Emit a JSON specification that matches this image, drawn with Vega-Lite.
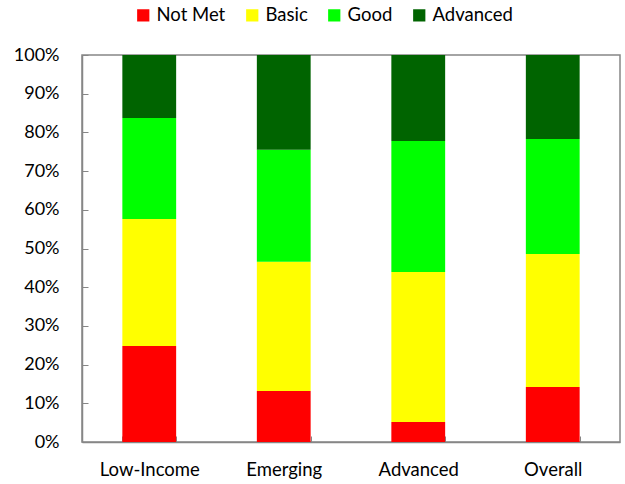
{
  "$schema": "https://vega.github.io/schema/vega-lite/v6.json",
  "autosize": "none",
  "padding": {"left": 82, "top": 55, "right": 5, "bottom": 42},
  "width": 538,
  "height": 387,
  "background": "white",
  "config": {
    "font": "Lato",
    "view": {"stroke": "#868686", "strokeWidth": 1.5},
    "axis": {"domainColor": "#868686", "tickColor": "#868686", "labelColor": "#000000", "grid": false}
  },
  "data": {
    "values": [
      {"group": "Low-Income", "level": "Not Met", "rank": 1, "pct": 24.8},
      {"group": "Low-Income", "level": "Basic", "rank": 2, "pct": 32.8},
      {"group": "Low-Income", "level": "Good", "rank": 3, "pct": 26.1},
      {"group": "Low-Income", "level": "Advanced", "rank": 4, "pct": 16.3},
      {"group": "Emerging", "level": "Not Met", "rank": 1, "pct": 13.2},
      {"group": "Emerging", "level": "Basic", "rank": 2, "pct": 33.4},
      {"group": "Emerging", "level": "Good", "rank": 3, "pct": 28.9},
      {"group": "Emerging", "level": "Advanced", "rank": 4, "pct": 24.5},
      {"group": "Advanced", "level": "Not Met", "rank": 1, "pct": 5.2},
      {"group": "Advanced", "level": "Basic", "rank": 2, "pct": 38.7},
      {"group": "Advanced", "level": "Good", "rank": 3, "pct": 33.9},
      {"group": "Advanced", "level": "Advanced", "rank": 4, "pct": 22.2},
      {"group": "Overall", "level": "Not Met", "rank": 1, "pct": 14.2},
      {"group": "Overall", "level": "Basic", "rank": 2, "pct": 34.4},
      {"group": "Overall", "level": "Good", "rank": 3, "pct": 29.7},
      {"group": "Overall", "level": "Advanced", "rank": 4, "pct": 21.7}
    ]
  },
  "mark": {"type": "bar"},
  "encoding": {
    "x": {
      "field": "group",
      "type": "nominal",
      "sort": ["Low-Income", "Emerging", "Advanced", "Overall"],
      "scale": {"paddingInner": 0.6, "paddingOuter": 0.3},
      "axis": {
        "title": null,
        "labelAngle": 0,
        "labelFontSize": 18.5,
        "labelPadding": 24,
        "tickBand": "extent",
        "tickSize": -6,
        "domainWidth": 1.5
      }
    },
    "y": {
      "field": "pct",
      "type": "quantitative",
      "stack": "normalize",
      "scale": {"domain": [0, 1], "nice": false},
      "axis": {
        "title": null,
        "format": ".0%",
        "values": [0, 0.1, 0.2, 0.3, 0.4, 0.5, 0.6, 0.7, 0.8, 0.9, 1],
        "labelFontSize": 18,
        "labelPadding": 29,
        "tickSize": -6,
        "domainWidth": 1.5
      }
    },
    "order": {"field": "rank", "type": "quantitative", "sort": "ascending"},
    "color": {
      "field": "level",
      "type": "nominal",
      "scale": {
        "domain": ["Not Met", "Basic", "Good", "Advanced"],
        "range": ["#ff0000", "#ffff00", "#00ff00", "#006400"]
      },
      "legend": {
        "title": null,
        "orient": "none",
        "direction": "horizontal",
        "legendX": 52,
        "legendY": -49,
        "symbolType": "square",
        "symbolSize": 150,
        "symbolStrokeWidth": 0,
        "labelFontSize": 18.5,
        "labelColor": "#000000",
        "labelOffset": 4,
        "columnPadding": 17
      }
    }
  }
}
